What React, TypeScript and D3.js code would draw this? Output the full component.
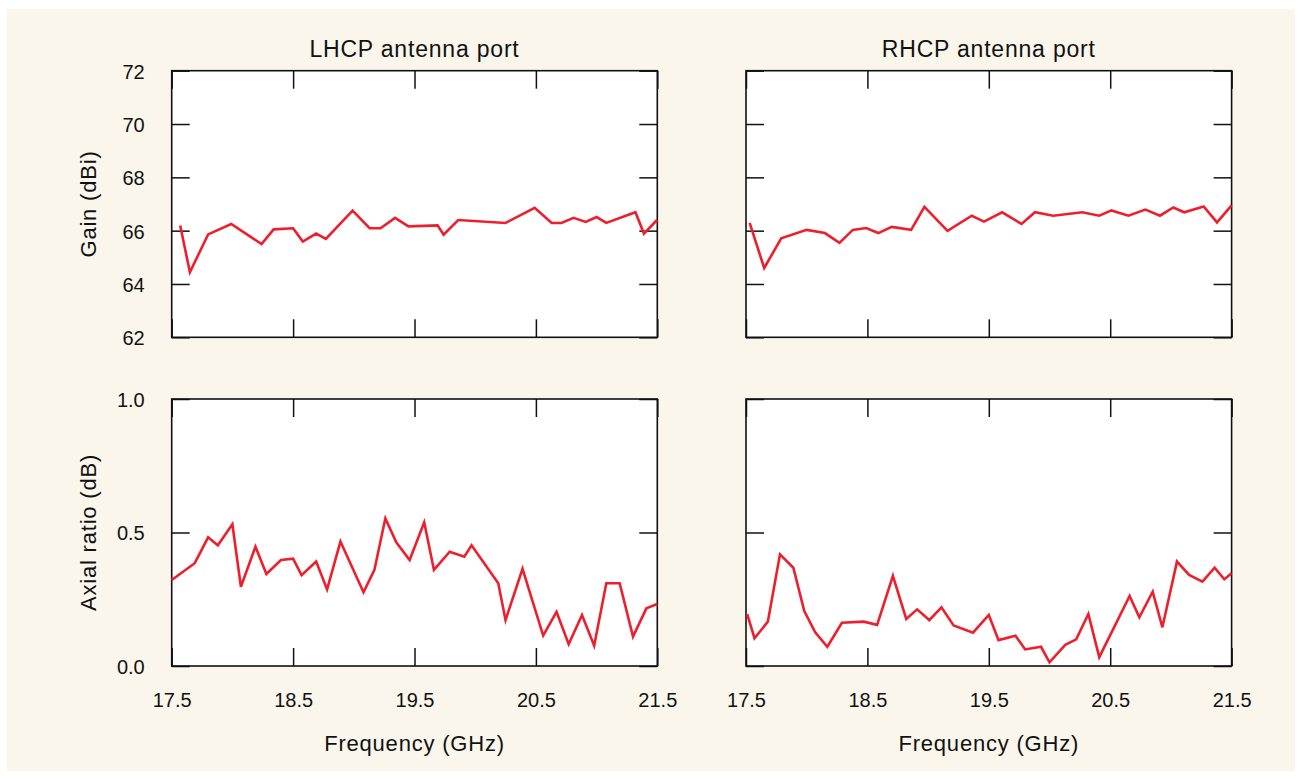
import React, { useRef, useEffect } from 'react';
import * as d3 from 'd3';

// values
const lhcpGainFreq = [17.57, 17.65, 17.8, 17.99, 18.24, 18.34, 18.5, 18.58, 18.69, 18.77, 18.99, 19.13, 19.22, 19.34, 19.45, 19.69, 19.74, 19.86, 20.25, 20.49, 20.63, 20.71, 20.81, 20.91, 21.0, 21.08, 21.32, 21.39, 21.5];
const lhcpGain = [66.19, 64.44, 65.86, 66.25, 65.5, 66.05, 66.09, 65.59, 65.89, 65.69, 66.75, 66.09, 66.09, 66.48, 66.16, 66.2, 65.85, 66.4, 66.29, 66.86, 66.29, 66.29, 66.48, 66.33, 66.51, 66.29, 66.69, 65.89, 66.41];

const rhcpGainFreq = [17.53, 17.65, 17.79, 18.0, 18.15, 18.27, 18.38, 18.49, 18.59, 18.7, 18.86, 18.97, 19.16, 19.36, 19.46, 19.61, 19.77, 19.88, 20.03, 20.27, 20.41, 20.51, 20.65, 20.79, 20.91, 21.02, 21.11, 21.27, 21.38, 21.5];
const rhcpGain = [66.29, 64.6, 65.71, 66.03, 65.91, 65.54, 66.03, 66.1, 65.91, 66.14, 66.03, 66.89, 65.99, 66.56, 66.34, 66.69, 66.25, 66.69, 66.56, 66.69, 66.56, 66.76, 66.56, 66.79, 66.56, 66.87, 66.69, 66.91, 66.31, 66.95];

const lhcpArFreq = [17.5, 17.69, 17.8, 17.88, 18.0, 18.07, 18.19, 18.28, 18.4, 18.5, 18.57, 18.69, 18.78, 18.89, 19.08, 19.17, 19.26, 19.35, 19.46, 19.58, 19.66, 19.79, 19.91, 19.97, 20.19, 20.25, 20.39, 20.56, 20.67, 20.77, 20.88, 20.98, 21.08, 21.19, 21.3, 21.41, 21.5];
const lhcpAr = [0.322, 0.385, 0.482, 0.452, 0.531, 0.297, 0.447, 0.345, 0.397, 0.402, 0.34, 0.391, 0.287, 0.466, 0.276, 0.36, 0.553, 0.463, 0.397, 0.538, 0.36, 0.428, 0.409, 0.452, 0.31, 0.172, 0.364, 0.114, 0.203, 0.082, 0.191, 0.076, 0.31, 0.31, 0.11, 0.216, 0.232];

const rhcpArFreq = [17.51, 17.57, 17.68, 17.78, 17.89, 17.98, 18.07, 18.17, 18.29, 18.47, 18.58, 18.71, 18.82, 18.91, 19.01, 19.11, 19.21, 19.37, 19.5, 19.58, 19.72, 19.8, 19.93, 20.0, 20.13, 20.22, 20.32, 20.41, 20.66, 20.74, 20.85, 20.93, 21.05, 21.15, 21.26, 21.36, 21.44, 21.5];
const rhcpAr = [0.194, 0.104, 0.166, 0.418, 0.368, 0.206, 0.126, 0.072, 0.162, 0.166, 0.154, 0.338, 0.176, 0.212, 0.172, 0.22, 0.152, 0.125, 0.191, 0.097, 0.113, 0.062, 0.072, 0.014, 0.079, 0.1, 0.195, 0.033, 0.262, 0.182, 0.278, 0.145, 0.391, 0.341, 0.316, 0.368, 0.325, 0.347];

const freqTicks = [17.5, 18.5, 19.5, 20.5, 21.5];
const gainTicks = [62, 64, 66, 68, 70, 72];
const arTicks = [0, 0.5, 1.0];
const panelTitles = ['LHCP antenna port', 'RHCP antenna port'];

const FONT = '"Liberation Sans", Arial, sans-serif';

const App: React.FC = () => {
	const svgRef = useRef<SVGSVGElement | null>(null);

	useEffect(() => {
		const svg = d3.select(svgRef.current);
		svg.selectAll('*').remove();

		svg.append('rect')
			.attr('x', 7)
			.attr('y', 9)
			.attr('width', 1288)
			.attr('height', 762)
			.attr('fill', '#faf6ec');

		const cols = [171.7, 746];
		const plotW = 485.6;
		const rows = [
			{ top: 70.7, bottom: 337.3, domain: [62, 72], ticks: gainTicks, fmt: (d: number) => String(d), label: 'Gain (dBi)' },
			{ top: 399, bottom: 666, domain: [0, 1], ticks: arTicks, fmt: d3.format('.1f'), label: 'Axial ratio (dB)' },
		];
		const series = [
			[
				[lhcpGainFreq, lhcpGain],
				[rhcpGainFreq, rhcpGain],
			],
			[
				[lhcpArFreq, lhcpAr],
				[rhcpArFreq, rhcpAr],
			],
		];

		const tick = 18;

		rows.forEach((row, ri) => {
			cols.forEach((left, ci) => {
				const x = d3.scaleLinear().domain([17.5, 21.5]).range([left, left + plotW]);
				const y = d3.scaleLinear().domain(row.domain).range([row.bottom, row.top]);

				const g = svg.append('g');

				g.append('rect')
					.attr('x', left)
					.attr('y', row.top)
					.attr('width', plotW)
					.attr('height', row.bottom - row.top)
					.attr('fill', '#fff');

				const styleAxis = (sel: d3.Selection<SVGGElement, unknown, null, undefined>) => {
					sel.select('.domain').remove();
					sel.selectAll('line').attr('stroke', '#111').attr('stroke-width', 1.5);
					sel.selectAll('text')
						.attr('fill', '#111')
						.style('font-family', FONT)
						.style('font-size', '20px');
				};

				const bottomAxis = d3.axisBottom(x).tickValues(freqTicks).tickSize(-tick).tickPadding(26.5);
				if (ri === 0) bottomAxis.tickFormat(() => '');
				g.append('g')
					.attr('transform', `translate(0,${row.bottom})`)
					.call(bottomAxis)
					.call(styleAxis);

				g.append('g')
					.attr('transform', `translate(0,${row.top})`)
					.call(d3.axisTop(x).tickValues(freqTicks).tickSize(-tick).tickFormat(() => ''))
					.call(styleAxis);

				const leftAxis = d3.axisLeft(y).tickValues(row.ticks).tickSize(-tick).tickPadding(27);
				leftAxis.tickFormat(ci === 0 ? (d) => row.fmt(d as number) : () => '');
				g.append('g')
					.attr('transform', `translate(${left},0)`)
					.call(leftAxis)
					.call(styleAxis)
					.selectAll('text')
					.attr('dy', '0.37em');

				g.append('g')
					.attr('transform', `translate(${left + plotW},0)`)
					.call(d3.axisRight(y).tickValues(row.ticks).tickSize(-tick).tickFormat(() => ''))
					.call(styleAxis);

				g.append('rect')
					.attr('x', left)
					.attr('y', row.top)
					.attr('width', plotW)
					.attr('height', row.bottom - row.top)
					.attr('fill', 'none')
					.attr('stroke', '#111')
					.attr('stroke-width', 1.6);

				const [fx, vy] = series[ri][ci];
				const pts = fx.map((f, i) => [f, vy[i]] as [number, number]);
				const line = d3
					.line<[number, number]>()
					.x((d) => x(d[0]))
					.y((d) => y(d[1]));

				g.append('path')
					.datum(pts)
					.attr('d', line)
					.attr('fill', 'none')
					.attr('stroke', '#ee1f2d')
					.attr('stroke-width', 2.6)
					.attr('stroke-linejoin', 'miter');

				if (ri === 0) {
					g.append('text')
						.attr('x', left + plotW / 2)
						.attr('y', 57)
						.attr('text-anchor', 'middle')
						.style('font-family', FONT)
						.style('font-size', '23px')
						.style('letter-spacing', '0.8px')
						.attr('fill', '#111')
						.text(panelTitles[ci]);
				} else {
					g.append('text')
						.attr('x', left + plotW / 2)
						.attr('y', 751)
						.attr('text-anchor', 'middle')
						.style('font-family', FONT)
						.style('font-size', '22px')
						.style('letter-spacing', '0.8px')
						.attr('fill', '#111')
						.text('Frequency (GHz)');
				}
			});

			svg.append('text')
				.attr('transform', `translate(96,${(row.top + row.bottom) / 2}) rotate(-90)`)
				.attr('text-anchor', 'middle')
				.style('font-family', FONT)
				.style('font-size', '22px')
				.style('letter-spacing', '0.8px')
				.attr('fill', '#111')
				.text(row.label);
		});
	}, []);

	return (
		<svg
			ref={svgRef}
			width={1302}
			height={779}
			style={{ position: 'absolute', left: 0, top: 0, display: 'block' }}
		/>
	);
};

export default App;
